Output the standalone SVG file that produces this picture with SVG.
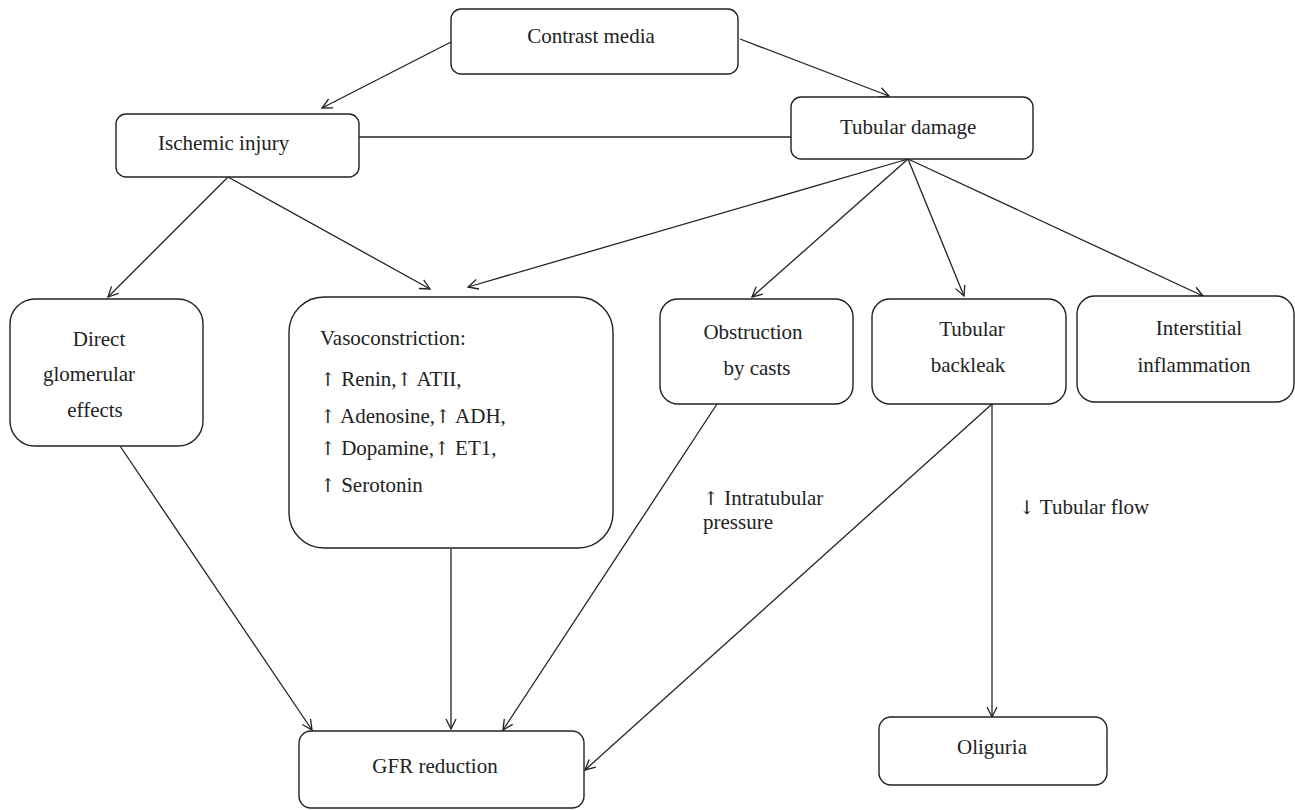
<svg xmlns="http://www.w3.org/2000/svg" width="1295" height="810" viewBox="0 0 1295 810">
<style>
.box{fill:#fff;stroke:#222;stroke-width:1.4}
.t{font-size:21px;fill:#222}
.c{text-anchor:middle}
.a{font-family:'DejaVu Serif',serif;font-size:19px}
.ln{stroke:#222;stroke-width:1.3;fill:none}
</style>
<defs>
<marker id="arr" viewBox="0 0 12 12" refX="11" refY="6" markerWidth="12" markerHeight="12" orient="auto" markerUnits="userSpaceOnUse">
<path d="M1,1 L11,6 L1,11" fill="none" stroke="#222" stroke-width="1.3"/>
</marker>
</defs>
<rect width="1295" height="810" fill="#fff"/>
<g font-family="Liberation Serif, Times New Roman, DejaVu Serif, serif">
<g id="connectors">
<line class="ln" x1="451" y1="42" x2="322" y2="108" marker-end="url(#arr)"/>
<line class="ln" x1="740" y1="39" x2="889" y2="96" marker-end="url(#arr)"/>
<line class="ln" x1="359" y1="137" x2="791" y2="137"/>
<line class="ln" x1="228" y1="177" x2="108" y2="297" marker-end="url(#arr)"/>
<line class="ln" x1="228" y1="177" x2="430" y2="289" marker-end="url(#arr)"/>
<line class="ln" x1="908" y1="159" x2="468" y2="287" marker-end="url(#arr)"/>
<line class="ln" x1="908" y1="159" x2="752" y2="297" marker-end="url(#arr)"/>
<line class="ln" x1="908" y1="159" x2="964" y2="296" marker-end="url(#arr)"/>
<line class="ln" x1="908" y1="159" x2="1203" y2="296" marker-end="url(#arr)"/>
<line class="ln" x1="120" y1="446" x2="312" y2="730" marker-end="url(#arr)"/>
<line class="ln" x1="451" y1="549" x2="451" y2="729" marker-end="url(#arr)"/>
<line class="ln" x1="717" y1="404" x2="503" y2="730" marker-end="url(#arr)"/>
<line class="ln" x1="992" y1="404" x2="585" y2="770" marker-end="url(#arr)"/>
<line class="ln" x1="992" y1="404" x2="992" y2="717" marker-end="url(#arr)"/>
<text class="t" x="703" y="505"><tspan class="a">↑</tspan> Intratubular</text>
<text class="t" x="703" y="529">pressure</text>
<text class="t" x="1019" y="514"><tspan class="a">↓</tspan> Tubular flow</text>
</g>
<g id="contrast-media">
<rect class="box" x="451" y="9" width="287" height="65" rx="10"/>
<text class="t c" x="591" y="43">Contrast media</text>
</g>
<g id="ischemic-injury">
<rect class="box" x="116" y="114" width="243" height="63" rx="10"/>
<text class="t" x="158" y="150">Ischemic injury</text>
</g>
<g id="tubular-damage">
<rect class="box" x="791" y="97" width="242" height="62" rx="10"/>
<text class="t" x="840" y="134">Tubular damage</text>
</g>
<g id="direct-glomerular">
<rect class="box" x="10" y="299" width="193" height="147" rx="25"/>
<text class="t c" x="99" y="346">Direct</text>
<text class="t c" x="89" y="381">glomerular</text>
<text class="t c" x="95" y="417">effects</text>
</g>
<g id="vasoconstriction">
<rect class="box" x="289" y="297" width="324" height="251" rx="35"/>
<text class="t" x="320" y="345">Vasoconstriction:</text>
<text class="t" x="320" y="386"><tspan class="a">↑</tspan> Renin,<tspan class="a">↑</tspan> ATII,</text>
<text class="t" x="320" y="423"><tspan class="a">↑</tspan> Adenosine,<tspan class="a">↑</tspan> ADH,</text>
<text class="t" x="320" y="455"><tspan class="a">↑</tspan> Dopamine,<tspan class="a">↑</tspan> ET1,</text>
<text class="t" x="320" y="492"><tspan class="a">↑</tspan> Serotonin</text>
</g>
<g id="obstruction">
<rect class="box" x="660" y="299" width="193" height="105" rx="18"/>
<text class="t c" x="753" y="339">Obstruction</text>
<text class="t c" x="757" y="375">by casts</text>
</g>
<g id="tubular-backleak">
<rect class="box" x="872" y="299" width="194" height="105" rx="18"/>
<text class="t c" x="972" y="336">Tubular</text>
<text class="t c" x="968" y="372">backleak</text>
</g>
<g id="interstitial-inflammation">
<rect class="box" x="1077" y="296" width="217" height="106" rx="18"/>
<text class="t c" x="1199" y="335">Interstitial</text>
<text class="t c" x="1194" y="372">inflammation</text>
</g>
<g id="gfr-reduction">
<rect class="box" x="299" y="731" width="285" height="77" rx="12"/>
<text class="t c" x="435" y="773">GFR reduction</text>
</g>
<g id="oliguria">
<rect class="box" x="879" y="717" width="228" height="68" rx="12"/>
<text class="t c" x="992" y="754">Oliguria</text>
</g>
</g>
</svg>
